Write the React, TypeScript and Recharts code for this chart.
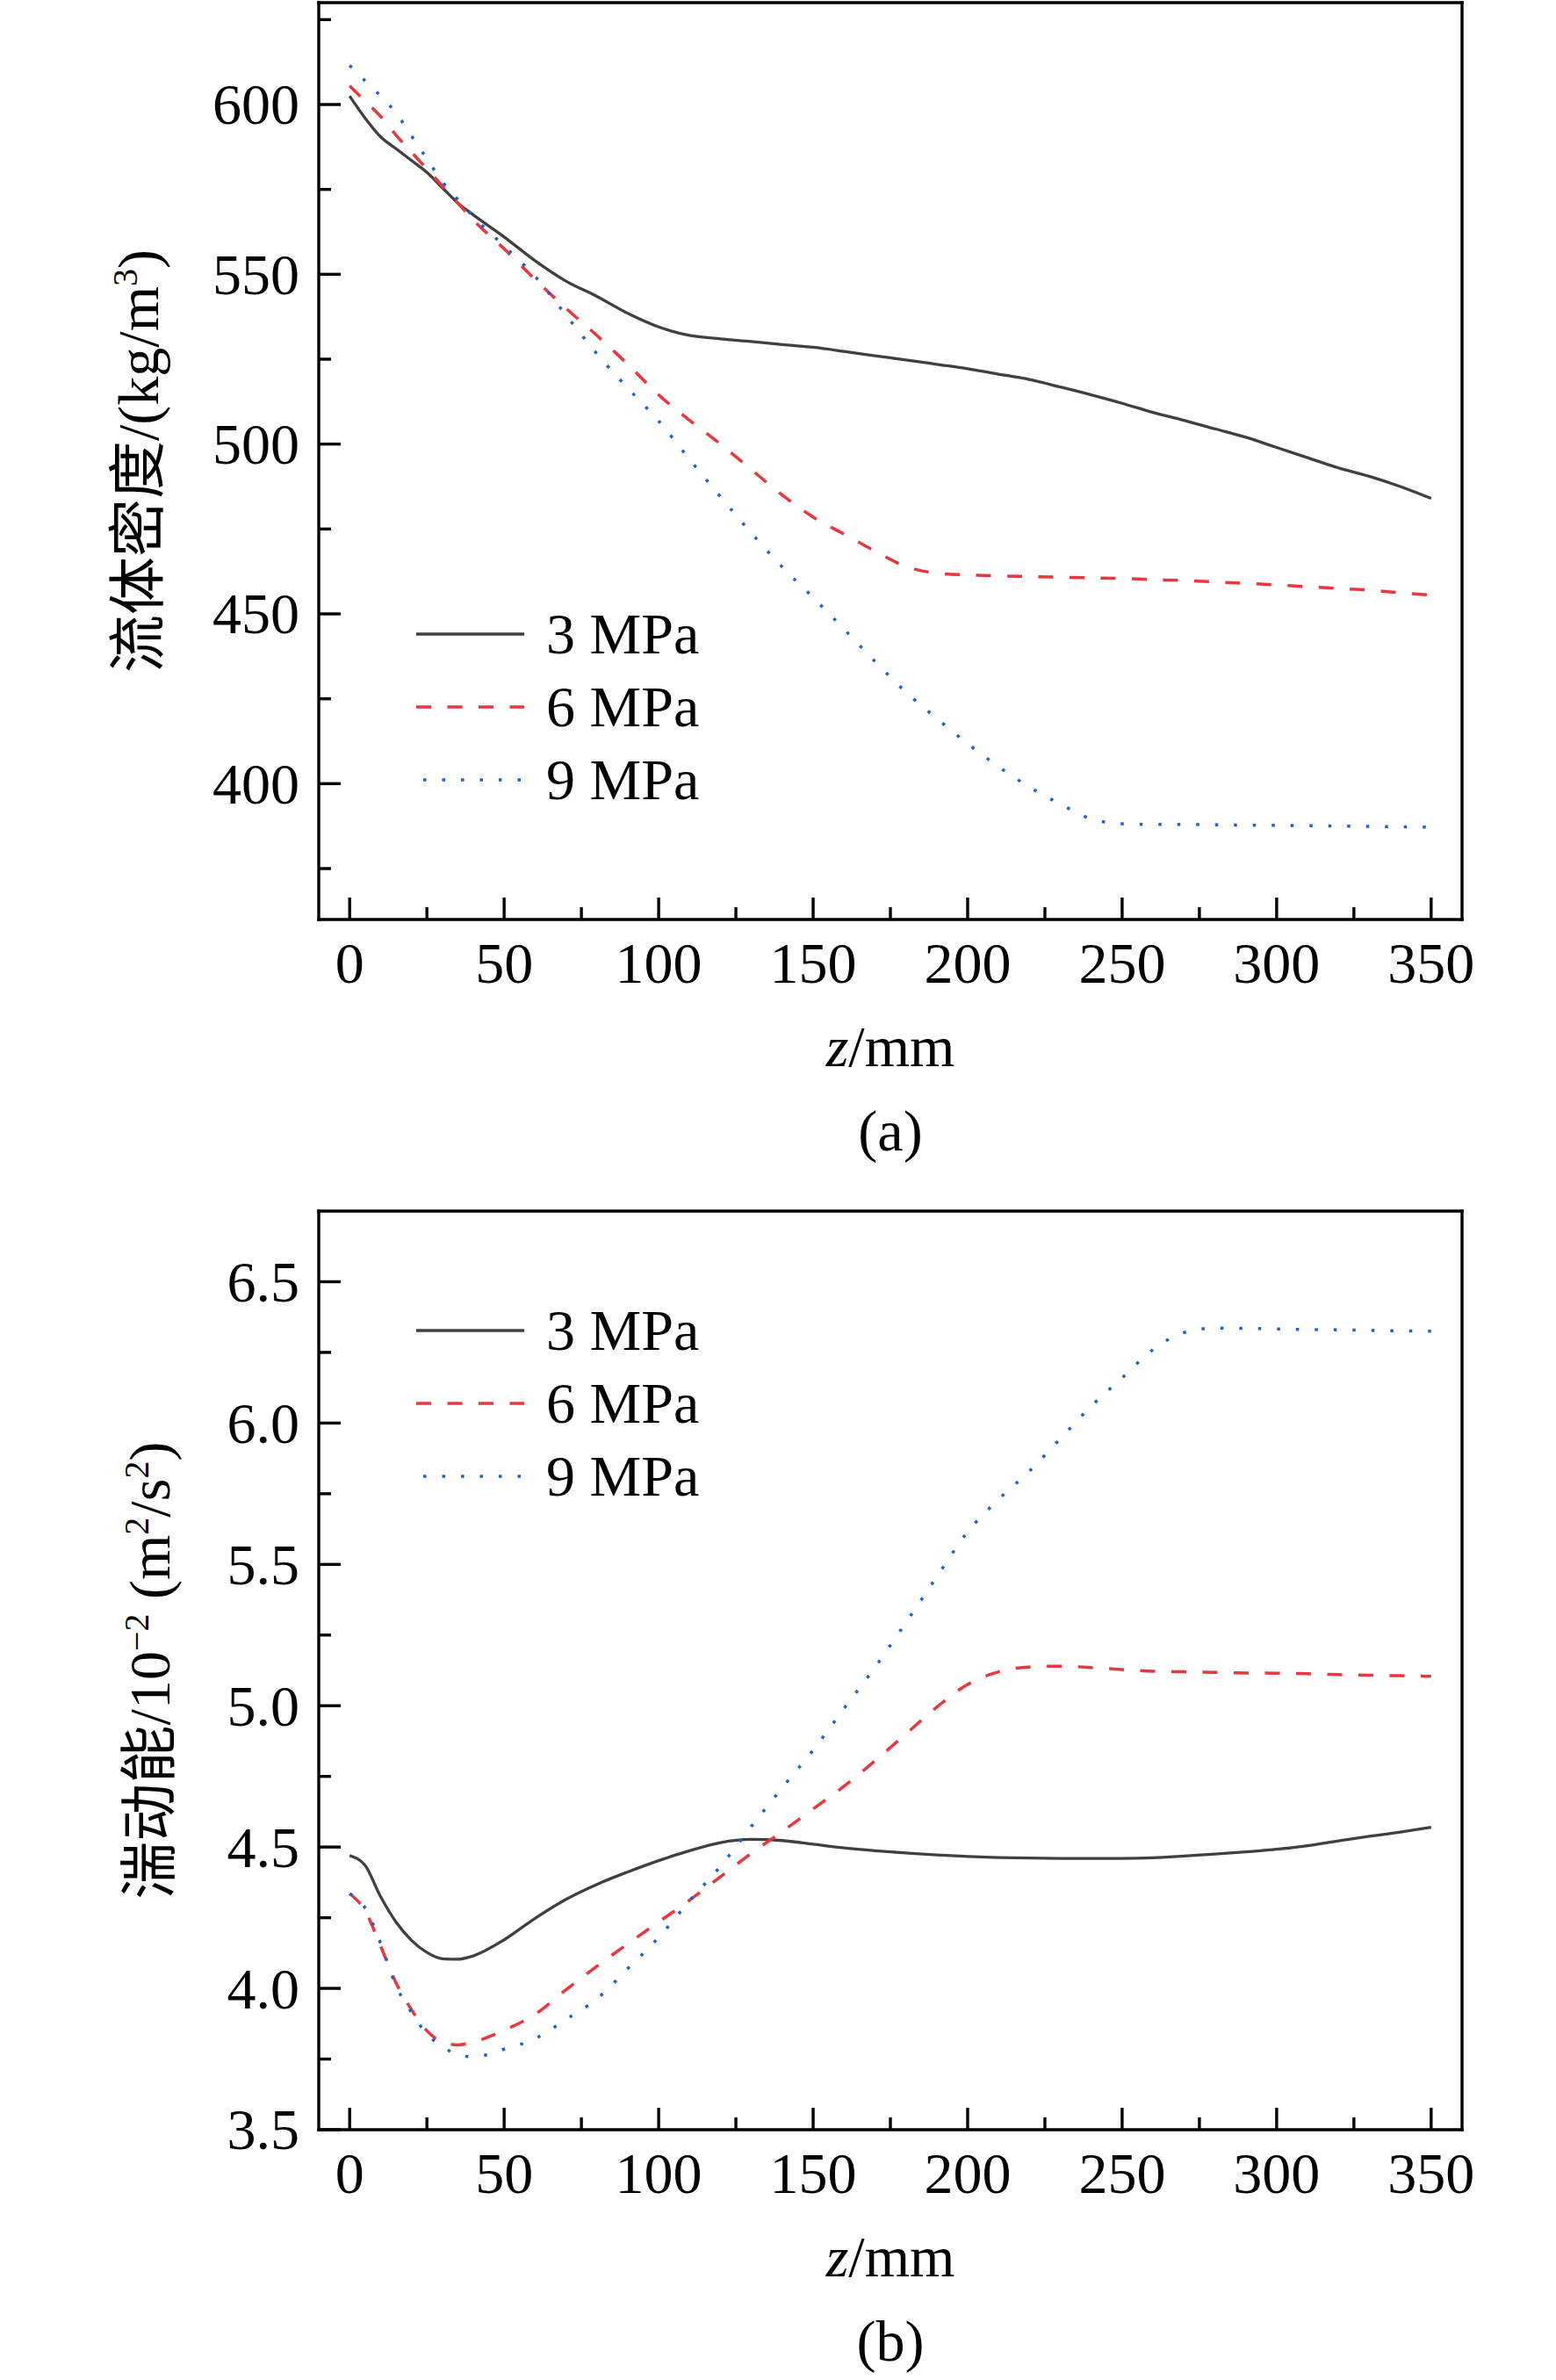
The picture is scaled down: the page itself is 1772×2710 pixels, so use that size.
import React from 'react';
import { LineChart, Line, XAxis, YAxis, Legend, ReferenceLine } from 'recharts';

// ---------- data ----------
const zPositions = [0, 5, 10, 15, 20, 25, 30, 35, 40, 50, 60, 70, 80, 90, 100, 110, 120, 130, 140, 150, 160, 170, 180, 190, 200, 210, 220, 230, 240, 250, 260, 270, 280, 290, 300, 310, 320, 330, 340, 350];

const density3MPa = [602.5, 596, 590.5, 587, 583.5, 580, 575.5, 571, 567.5, 561, 554, 548, 543.5, 538.5, 534.5, 532, 531, 530.2, 529.3, 528.5, 527.3, 526, 524.8, 523.5, 522.2, 520.6, 519, 516.8, 514.5, 512, 509.3, 507, 504.5, 502, 499, 496, 493, 490.5, 487.5, 484];
const density6MPa = [605.5, 601, 596.5, 591, 586, 581, 576, 571, 566, 557.5, 548.5, 540, 532, 523.5, 514.5, 507, 500, 492.5, 485, 478.5, 473.5, 468.5, 464, 462, 461.5, 461.2, 461, 460.8, 460.6, 460.4, 460.1, 459.8, 459.4, 459, 458.5, 458, 457.5, 457, 456.2, 455.5];
const density9MPa = [611.5, 607, 602.5, 597.5, 590.8, 584, 577.3, 572, 567, 558.3, 549.4, 538, 526.6, 516.5, 506.8, 495.5, 484.5, 473.8, 463.8, 454.8, 445.5, 436, 427, 419.2, 411.8, 405, 399, 394, 389.6, 388.2, 388, 388, 387.9, 387.8, 387.7, 387.6, 387.5, 387.4, 387.3, 387.2];

const tke3MPa = [4.47, 4.435, 4.325, 4.235, 4.17, 4.127, 4.105, 4.103, 4.115, 4.172, 4.248, 4.315, 4.368, 4.412, 4.452, 4.487, 4.516, 4.527, 4.523, 4.51, 4.497, 4.487, 4.479, 4.472, 4.467, 4.463, 4.461, 4.46, 4.46, 4.46, 4.462, 4.468, 4.475, 4.483, 4.492, 4.505, 4.522, 4.538, 4.553, 4.57];
const tke6MPa = [4.335, 4.275, 4.15, 4.02, 3.925, 3.85, 3.81, 3.8, 3.81, 3.852, 3.908, 3.995, 4.078, 4.158, 4.235, 4.312, 4.395, 4.478, 4.555, 4.635, 4.715, 4.805, 4.9, 4.995, 5.075, 5.12, 5.137, 5.14, 5.135, 5.128, 5.122, 5.12, 5.118, 5.116, 5.115, 5.113, 5.11, 5.108, 5.106, 5.104];
const tke9MPa = [4.335, 4.285, 4.16, 4.01, 3.915, 3.838, 3.795, 3.765, 3.758, 3.785, 3.822, 3.89, 3.963, 4.07, 4.18, 4.31, 4.432, 4.573, 4.71, 4.843, 4.99, 5.136, 5.294, 5.456, 5.615, 5.73, 5.83, 5.945, 6.06, 6.16, 6.26, 6.32, 6.336, 6.335, 6.333, 6.331, 6.33, 6.328, 6.326, 6.325];

const seriesNames = ['3 MPa', '6 MPa', '9 MPa'];
const seriesKeys = ['p3', 'p6', 'p9'];

const xTicks = [0, 25, 50, 75, 100, 125, 150, 175, 200, 225, 250, 275, 300, 325, 350];
const densityTicks = [375, 400, 425, 450, 475, 500, 525, 550, 575, 600, 625];
const tkeTicks = [3.5, 3.75, 4.0, 4.25, 4.5, 4.75, 5.0, 5.25, 5.5, 5.75, 6.0, 6.25, 6.5];

const xDomain = [-10, 360];
const densityDomain = [360, 630];
const tkeDomain = [3.5, 6.75];

// ---------- styles ----------
const FONT = "'Liberation Serif', 'Times New Roman', 'Noto Sans CJK SC', serif";
const FS = 66;
const AXIS_W = 3.4;
const seriesStyles = [
  { color: '#404040', dash: undefined as string | undefined, offset: 0 },
  { color: '#e8383d', dash: '17 18.5', offset: 0 },
  { color: '#1e62d0', dash: '3.5 18', offset: 13.5 },
];

const densityData = zPositions.map((z, i) => ({ z, p3: density3MPa[i], p6: density6MPa[i], p9: density9MPa[i] }));
const tkeData = zPositions.map((z, i) => ({ z, p3: tke3MPa[i], p6: tke6MPa[i], p9: tke9MPa[i] }));

const isMultiple = (v: number, step: number) => Math.abs(v / step - Math.round(v / step)) < 1e-6;

const makeXTick = (step: number) => (props: any) => {
  const { x, y, payload } = props;
  const v = payload.value;
  const major = isMultiple(v, step);
  return (
    <g>
      <line x1={x} y1={y} x2={x} y2={y - (major ? 25 : 14)} stroke="#000" strokeWidth={AXIS_W} />
      {major && (
        <text x={x} y={y + 72} textAnchor="middle" fontFamily={FONT} fontSize={FS} fill="#000">
          {v}
        </text>
      )}
    </g>
  );
};

const makeYTick = (step: number, fmt: (v: number) => string) => (props: any) => {
  const { x, y, payload } = props;
  const v = payload.value;
  const major = isMultiple(v, step);
  return (
    <g>
      <line x1={x} y1={y} x2={x + (major ? 25 : 14)} y2={y} stroke="#000" strokeWidth={AXIS_W} />
      {major && (
        <text x={x - 22} y={y} dy="0.34em" textAnchor="end" fontFamily={FONT} fontSize={FS} fill="#000">
          {fmt(v)}
        </text>
      )}
    </g>
  );
};

const XTitle = ({ viewBox, caption }: any) => {
  const { x, y, width } = viewBox;
  const cx = x + width / 2;
  return (
    <g>
      <text x={cx} y={y + 167} textAnchor="middle" fontFamily={FONT} fontSize={FS} fill="#000">
        <tspan fontStyle="italic">z</tspan>
        <tspan>/mm</tspan>
      </text>
      <text x={cx} y={y + 263} textAnchor="middle" fontFamily={FONT} fontSize={FS} fill="#000">
        {caption}
      </text>
    </g>
  );
};

const YTitle = ({ viewBox, fromAxis, children }: any) => {
  const { x, y, width, height } = viewBox;
  const cx = x + width - fromAxis;
  const cy = y + height / 2;
  return (
    <text x={cx} y={cy} transform={`rotate(-90 ${cx} ${cy})`} textAnchor="middle" fontFamily={FONT} fontSize={FS} fill="#000">
      {children}
    </text>
  );
};

const LegendBox = () => (
  <svg width={440} height={250} style={{ display: 'block', overflow: 'visible' }}>
    {seriesNames.map((name, i) => {
      const cy = 40 + i * 83;
      const st = seriesStyles[i];
      return (
        <g key={name}>
          <line x1={0} x2={123} y1={cy} y2={cy} stroke={st.color} strokeWidth={3.5} strokeDasharray={st.dash} strokeDashoffset={st.offset} />
          <text x={148} y={cy + 22} fontFamily={FONT} fontSize={FS} fill="#000">
            {name}
          </text>
        </g>
      );
    })}
  </svg>
);

const frameLines = (yDomain: number[]) => [
  <ReferenceLine key="ft" y={yDomain[1]} stroke="#000" strokeWidth={AXIS_W} strokeLinecap="square" ifOverflow="extendDomain" />,
  <ReferenceLine key="fr" x={xDomain[1]} stroke="#000" strokeWidth={AXIS_W} strokeLinecap="square" ifOverflow="extendDomain" />,
];

const seriesLines = () =>
  seriesKeys.map((k, i) => (
    <Line
      key={k}
      dataKey={k}
      name={seriesNames[i]}
      type="monotone"
      stroke={seriesStyles[i].color}
      strokeWidth={seriesStyles[i].dash ? 3.5 : 3.3}
      strokeDasharray={seriesStyles[i].dash}
      dot={false}
      activeDot={false}
      isAnimationActive={false}
    />
  ));

const axisLineStyle = { stroke: '#000', strokeWidth: AXIS_W, strokeLinecap: 'square' };

const DensityChart = () => (
  <LineChart width={1772} height={1350} data={densityData} margin={{ top: 3, right: 107, bottom: 153, left: 213 }}>
    <XAxis
      dataKey="z"
      type="number"
      domain={xDomain}
      ticks={xTicks}
      interval={0}
      tickSize={0}
      tickMargin={0}
      tickLine={false}
      tick={makeXTick(50)}
      height={150}
      axisLine={axisLineStyle}
      label={{ content: (p: any) => <XTitle viewBox={p.viewBox} caption="(a)" /> }}
    />
    <YAxis
      type="number"
      domain={densityDomain}
      ticks={densityTicks}
      interval={0}
      tickSize={0}
      tickMargin={0}
      tickLine={false}
      tick={makeYTick(50, (v) => String(v))}
      width={150}
      axisLine={axisLineStyle}
      label={{
        content: (p: any) => (
          <YTitle viewBox={p.viewBox} fromAxis={183}>
            <tspan>流体密度/(kg/m</tspan>
            <tspan fontSize={40} dy={-24}>3</tspan>
            <tspan dy={24}>)</tspan>
          </YTitle>
        ),
      }}
    />
    {frameLines(densityDomain)}
    {seriesLines()}
    <Legend
      layout="vertical"
      align="center"
      verticalAlign="middle"
      content={() => <LegendBox />}
      wrapperStyle={{ left: 474, top: 682, width: 440, height: 250, bottom: 'auto', right: 'auto' }}
    />
  </LineChart>
);

const TkeChart = () => (
  <LineChart width={1772} height={1360} data={tkeData} margin={{ top: 29, right: 107, bottom: 135, left: 213 }}>
    <XAxis
      dataKey="z"
      type="number"
      domain={xDomain}
      ticks={xTicks}
      interval={0}
      tickSize={0}
      tickMargin={0}
      tickLine={false}
      tick={makeXTick(50)}
      height={150}
      axisLine={axisLineStyle}
      label={{ content: (p: any) => <XTitle viewBox={p.viewBox} caption="(b)" /> }}
    />
    <YAxis
      type="number"
      domain={tkeDomain}
      ticks={tkeTicks}
      interval={0}
      tickSize={0}
      tickMargin={0}
      tickLine={false}
      tick={makeYTick(0.5, (v) => v.toFixed(1))}
      width={150}
      axisLine={axisLineStyle}
      label={{
        content: (p: any) => (
          <YTitle viewBox={p.viewBox} fromAxis={170}>
            <tspan>湍动能/10</tspan>
            <tspan fontSize={40} dy={-24}>−2</tspan>
            <tspan dy={24}> (m</tspan>
            <tspan fontSize={40} dy={-24}>2</tspan>
            <tspan dy={24}>/s</tspan>
            <tspan fontSize={40} dy={-24}>2</tspan>
            <tspan dy={24}>)</tspan>
          </YTitle>
        ),
      }}
    />
    {frameLines(tkeDomain)}
    {seriesLines()}
    <Legend
      layout="vertical"
      align="center"
      verticalAlign="middle"
      content={() => <LegendBox />}
      wrapperStyle={{ left: 474, top: 125, width: 440, height: 250, bottom: 'auto', right: 'auto' }}
    />
  </LineChart>
);

export default function App() {
  return (
    <div style={{ position: 'absolute', left: 0, top: 0, width: 1772, height: 2710, background: '#fff' }}>
      <div style={{ position: 'absolute', left: 0, top: 0 }}>
        <DensityChart />
      </div>
      <div style={{ position: 'absolute', left: 0, top: 1350 }}>
        <TkeChart />
      </div>
    </div>
  );
}
